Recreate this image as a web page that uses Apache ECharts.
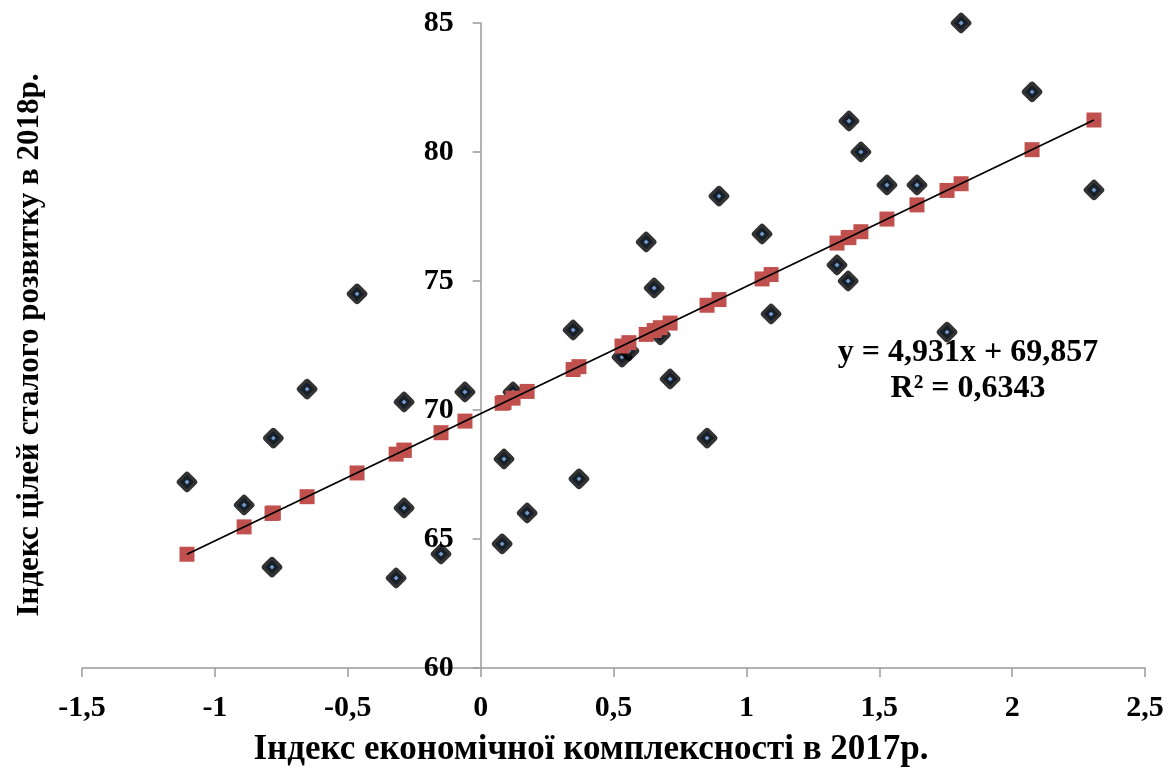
<!DOCTYPE html>
<html>
<head>
<meta charset="utf-8">
<script src="https://cdn.jsdelivr.net/npm/echarts@6/dist/echarts.min.js"></script>
<style>
  html, body { margin: 0; padding: 0; background: #fff; }
  #chart { width: 1176px; height: 772px; }
</style>
</head>
<body>
<div id="chart"></div>
<script>
// Economic complexity index 2017 (x) vs SDG index 2018 (y), one value per country
const complexity2017 = [
  -1.105, -0.89, -0.78, -0.785, -0.653, -0.465, -0.288, -0.288, -0.318, -0.149,
  -0.059, 0.081, 0.088, 0.122, 0.175, 0.348, 0.37, 0.532, 0.558, 0.623,
  0.653, 0.676, 0.713, 0.852, 0.897, 1.059, 1.093, 1.341, 1.383, 1.386,
  1.431, 1.529, 1.642, 1.755, 1.808, 2.075, 2.308
];
const sdgIndex2018 = [
  67.21, 66.32, 68.91, 63.91, 70.81, 74.50, 70.31, 66.20, 63.49, 64.42,
  70.70, 64.81, 68.10, 70.70, 66.01, 73.10, 67.33, 72.05, 72.29, 76.51,
  74.73, 72.91, 71.20, 68.91, 78.29, 76.82, 73.72, 75.62, 75.00, 81.20,
  80.00, 78.72, 78.72, 73.02, 85.00, 82.33, 78.53
];
// Fitted values on the regression line y = 4,931x + 69,857
const fittedIndex = [
  64.41, 65.47, 66.01, 65.99, 66.64, 67.56, 68.44, 68.44, 68.29, 69.12,
  69.57, 70.26, 70.29, 70.46, 70.72, 71.57, 71.68, 72.48, 72.61, 72.93,
  73.08, 73.19, 73.37, 74.06, 74.28, 75.08, 75.25, 76.47, 76.68, 76.69,
  76.91, 77.40, 77.95, 78.51, 78.77, 80.09, 81.24
];
const trendEnds = [[-1.105, 64.41], [2.308, 81.24]];
const equationText = 'y = 4,931x + 69,857';
const r2Text = 'R² = 0,6343';
const xTitle = 'Індекс економічної комплексності в 2017р.';
const yTitle = 'Індекс цілей сталого розвитку в 2018р.';

const FONT = '"Liberation Serif", "Times New Roman", serif';
const commaFmt = v => String(v).replace('.', ',');

const GRID = { left: 82, right: 31, top: 23, bottom: 104 };
const X_MIN = -1.5, X_MAX = 2.5;
// the vertical axis crosses the horizontal one at x = 0
const plotWidth = 1176 - GRID.left - GRID.right;
const yAxisShift = -plotWidth * (0 - X_MIN) / (X_MAX - X_MIN);

const chart = echarts.init(document.getElementById('chart'), null, { renderer: 'canvas' });

chart.setOption({
  animation: false,
  backgroundColor: '#ffffff',
  grid: GRID,
  xAxis: {
    type: 'value', min: X_MIN, max: X_MAX, interval: 0.5,
    axisLine: { onZero: false, lineStyle: { color: '#9a9a9a', width: 1.5 } },
    axisTick: { show: true, length: 9, lineStyle: { color: '#9a9a9a', width: 1.5 } },
    axisLabel: { margin: 25, color: '#000', fontFamily: FONT, fontWeight: 'bold', fontSize: 30, formatter: commaFmt },
    splitLine: { show: false }
  },
  yAxis: {
    type: 'value', min: 60, max: 85, interval: 5,
    offset: yAxisShift,
    axisLine: { show: true, onZero: false, lineStyle: { color: '#9a9a9a', width: 1.5 } },
    axisTick: { show: true, length: 8, lineStyle: { color: '#9a9a9a', width: 1.5 } },
    axisLabel: { margin: 27, color: '#000', fontFamily: FONT, fontWeight: 'bold', fontSize: 30 },
    splitLine: { show: false }
  },
  series: [
    {
      name: 'SDG index',
      type: 'scatter',
      symbol: 'diamond',
      symbolSize: 14,
      itemStyle: { color: '#4f81bd', borderColor: '#000', borderWidth: 6.5, borderJoin: 'round' },
      data: complexity2017.map((x, i) => [x, sdgIndex2018[i]]),
      z: 2
    },
    {
      name: 'Fitted',
      type: 'scatter',
      symbol: 'rect',
      symbolSize: 15,
      itemStyle: { color: '#c0504d', opacity: 1 },
      data: complexity2017.map((x, i) => [x, fittedIndex[i]]),
      z: 3
    },
    {
      name: 'Linear trend',
      type: 'line',
      data: trendEnds,
      symbol: 'none',
      lineStyle: { color: '#000', width: 1.8 },
      z: 4
    }
  ],
  graphic: [
    {
      type: 'text', position: [591, 750],
      style: { text: xTitle, align: 'center', verticalAlign: 'middle', fill: '#000', font: 'bold 35px ' + FONT }
    },
    {
      type: 'text', rotation: Math.PI / 2, position: [30, 345],
      style: { text: yTitle, align: 'center', verticalAlign: 'middle', fill: '#000', font: 'bold 31px ' + FONT }
    },
    {
      type: 'text', position: [968, 353],
      style: { text: equationText, align: 'center', verticalAlign: 'middle', fill: '#000', font: 'bold 32px ' + FONT }
    },
    {
      type: 'text', position: [968, 389],
      style: { text: r2Text, align: 'center', verticalAlign: 'middle', fill: '#000', font: 'bold 32px ' + FONT }
    }
  ]
});
</script>
</body>
</html>
